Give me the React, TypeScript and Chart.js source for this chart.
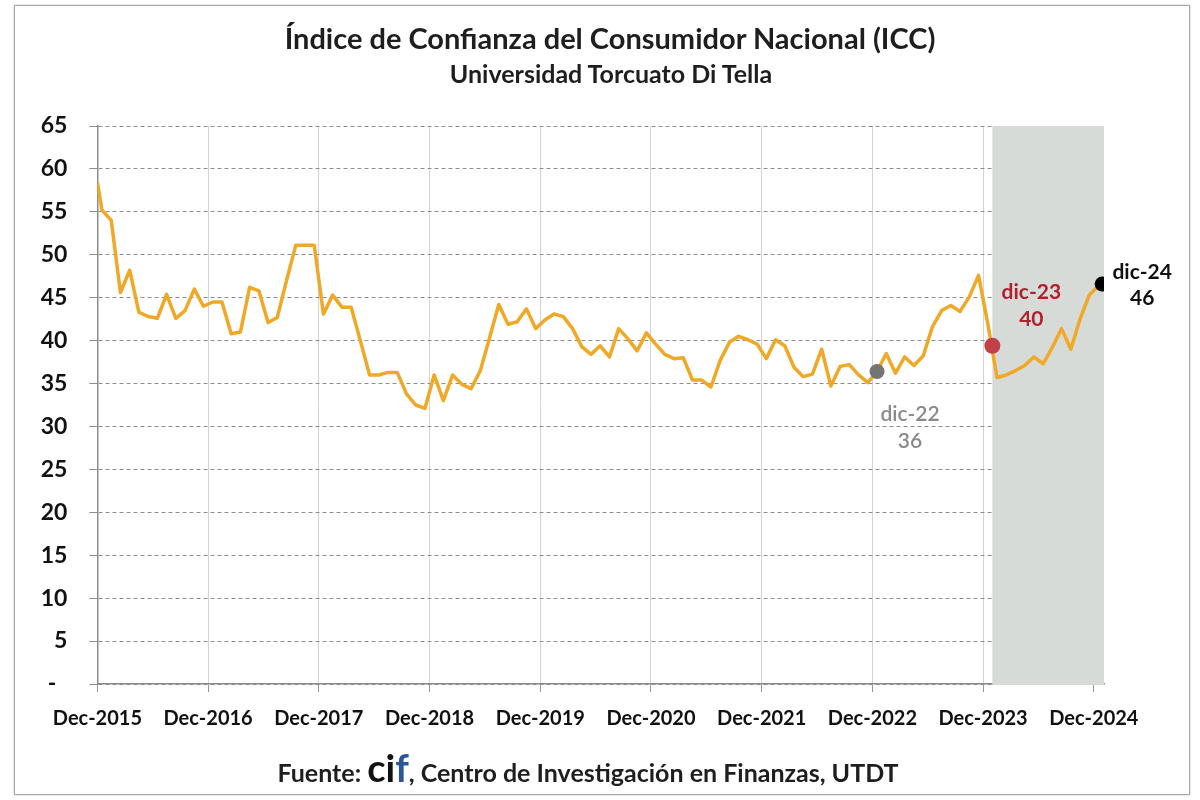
import React, { useEffect, useRef } from 'react';
import { Chart, registerables } from 'chart.js';

Chart.register(...registerables);

// Monthly ICC values, Dec-2015 ... Jan-2025
const iccValues = [
  58.4, 55.2, 54.0, 45.6, 48.2, 43.3, 42.8, 42.6, 45.4, 42.6, 43.5, 46.0,
  44.0, 44.5, 44.5, 40.8, 41.0, 46.2, 45.8, 42.1, 42.7, 47.0, 51.1, 51.1,
  51.1, 43.1, 45.3, 43.9, 43.9, 40.0, 36.0, 36.0, 36.3, 36.3, 33.8, 32.5,
  32.1, 36.0, 33.0, 36.0, 34.9, 34.4, 36.5, 40.3, 44.2, 41.9, 42.2, 43.7,
  41.4, 42.4, 43.1, 42.8, 41.4, 39.3, 38.4, 39.4, 38.1, 41.4, 40.2, 38.8,
  40.9, 39.6, 38.4, 37.9, 38.0, 35.4, 35.4, 34.6, 37.7, 39.8, 40.5, 40.1,
  39.6, 37.9, 40.1, 39.4, 36.9, 35.8, 36.1, 39.0, 34.7, 37.0, 37.2, 36.0,
  35.1, 36.4, 38.5, 36.2, 38.1, 37.1, 38.2, 41.6, 43.5, 44.1, 43.4, 45.1,
  47.6, 42.0, 35.7, 36.0, 36.5, 37.1, 38.1, 37.3, 39.2, 41.4, 39.0, 42.5,
  45.3, 46.4,
];

const xTickMonths = [0, 12, 24, 36, 48, 60, 72, 84, 96, 108];
const xTickLabels = [
  'Dec-2015', 'Dec-2016', 'Dec-2017', 'Dec-2018', 'Dec-2019',
  'Dec-2020', 'Dec-2021', 'Dec-2022', 'Dec-2023', 'Dec-2024',
];
const axisMaxMonth = 109.1;
const yMin = 0;
const yMax = 65;
const yStep = 5;

const markerNames = ['dic-22', 'dic-23', 'dic-24'];
const markerMonths = [84.5, 97.0, 108.9];
const markerValues = [36.4, 39.4, 46.6];
const markerTexts = ['36', '40', '46'];

const shadeStartMonth = 97.0;

const TITLE = 'Índice de Confianza del Consumidor Nacional (ICC)';
const SUBTITLE = 'Universidad Torcuato Di Tella';

const FONT = 'Lato, "Open Sans", sans-serif';

const markerColors = ['#747474', '#C2404A', '#000000'];
const markerRadii = [7.5, 8, 7.5];
const markerLabelColors = ['#8A8A8A', '#B0202F', '#111111'];
const markerLabelWeights = ['600', 'bold', 'bold'];
const markerLabelOffsets = [
  { dx: 33, dy1: 43, dy2: 70 },
  { dx: 39, dy1: -54, dy2: -27 },
  { dx: 40, dy1: -12, dy2: 14 },
];

export default function App() {
  const canvasRef = useRef<HTMLCanvasElement | null>(null);

  useEffect(() => {
    if (!canvasRef.current) return;

    const shadePlugin = {
      id: 'shadeBand',
      beforeDatasetsDraw(chart: any) {
        const { ctx, chartArea, scales } = chart;
        const x0 = scales.x.getPixelForValue(shadeStartMonth);
        ctx.save();
        ctx.fillStyle = '#D7DBD7';
        ctx.fillRect(x0, chartArea.top, chartArea.right - x0, chartArea.bottom - chartArea.top + 1);
        ctx.restore();
      },
    };

    const labelPlugin = {
      id: 'markerLabels',
      afterDatasetsDraw(chart: any) {
        const { ctx, scales } = chart;
        ctx.save();
        ctx.textAlign = 'center';
        ctx.textBaseline = 'middle';
        markerNames.forEach((name, i) => {
          const px = scales.x.getPixelForValue(markerMonths[i]);
          const py = scales.y.getPixelForValue(markerValues[i]);
          const off = markerLabelOffsets[i];
          ctx.fillStyle = markerLabelColors[i];
          ctx.font = `${markerLabelWeights[i]} 21px ${FONT}`;
          ctx.fillText(name, px + off.dx, py + off.dy1);
          ctx.fillText(markerTexts[i], px + off.dx, py + off.dy2);
        });
        ctx.restore();
      },
    };

    const chart = new Chart(canvasRef.current, {
      type: 'line',
      data: {
        datasets: [
          {
            label: 'markers',
            data: markerMonths.map((m, i) => ({ x: m, y: markerValues[i] })),
            showLine: false,
            pointRadius: markerRadii,
            pointBackgroundColor: markerColors,
            pointBorderWidth: 0,
            borderColor: 'transparent',
          },
          {
            label: 'ICC',
            data: iccValues.map((v, i) => ({ x: Math.max(0, i - 0.5), y: v })),
            borderColor: '#F0A826',
            borderWidth: 3.5,
            pointRadius: 0,
            tension: 0,
            fill: false,
            borderJoinStyle: 'round',
          },
        ],
      },
      options: {
        animation: false,
        responsive: false,
        devicePixelRatio: 1,
        layout: { padding: { left: 20, right: 96, top: 126, bottom: 0 } },
        plugins: {
          legend: { display: false },
          tooltip: { enabled: false },
          title: { display: false },
        },
        scales: {
          x: {
            type: 'linear',
            min: 0,
            max: axisMaxMonth,
            afterBuildTicks(scale: any) {
              scale.ticks = xTickMonths.map((v) => ({ value: v }));
            },
            afterFit(scale: any) {
              scale.height = 116;
            },
            ticks: {
              autoSkip: false,
              maxRotation: 0,
              padding: 15,
              color: '#111',
              font: { family: FONT, size: 20, weight: 'bold' },
              callback: (value: any) => {
                const idx = xTickMonths.indexOf(Number(value));
                return idx >= 0 ? xTickLabels[idx] : '';
              },
            },
            grid: {
              color: '#D4D4D4',
              lineWidth: 1,
              tickLength: 8,
              tickColor: '#999',
            },
            border: { display: true, color: '#8C8C8C', width: 1.5 },
          },
          y: {
            min: yMin,
            max: yMax,
            afterFit(scale: any) {
              scale.width = 77.4;
            },
            ticks: {
              stepSize: yStep,
              padding: 22,
              color: '#111',
              font: { family: FONT, size: 23, weight: 'bold' },
              callback: (value: any) => (Number(value) === 0 ? '-  ' : String(value)),
            },
            grid: {
              color: '#8E8E8E',
              lineWidth: 1,
              tickLength: 8,
              tickColor: '#8E8E8E',
            },
            border: { display: true, color: '#8C8C8C', width: 1.5, dash: [4, 3] },
          },
        },
      },
      plugins: [shadePlugin, labelPlugin],
    } as any);

    return () => chart.destroy();
  }, []);

  return (
    <div style={{ position: 'fixed', left: 0, top: 0, width: 1200, height: 800, background: '#fff', overflow: 'hidden' }}>
      <div
        style={{
          position: 'absolute', left: 14, top: 5, width: 1176, height: 790,
          border: '1px solid #A8A8A8', boxShadow: '0 0 2px rgba(0,0,0,0.25)', boxSizing: 'border-box',
        }}
      />
      <canvas ref={canvasRef} width={1200} height={800} style={{ position: 'absolute', left: 0, top: 0, width: 1200, height: 800 }} />
      <div
        style={{
          position: 'absolute', left: 610, top: 20, transform: 'translateX(-50%)', whiteSpace: 'nowrap',
          fontFamily: FONT, fontWeight: 'bold', fontSize: 29, lineHeight: '36px', color: '#1E1E1E',
        }}
      >
        {TITLE}
      </div>
      <div
        style={{
          position: 'absolute', left: 611, top: 58, transform: 'translateX(-50%)', whiteSpace: 'nowrap',
          fontFamily: FONT, fontWeight: 'bold', fontSize: 25, lineHeight: '30px', color: '#1E1E1E',
        }}
      >
        {SUBTITLE}
      </div>
      <div
        style={{
          position: 'absolute', left: 588, top: 745, transform: 'translateX(-50%)', whiteSpace: 'nowrap',
          fontFamily: FONT, fontWeight: 'bold', fontSize: 25, color: '#1E1E1E', lineHeight: '44px',
        }}
      >
        Fuente:{' '}
        <span style={{ fontSize: 38 }}>
          <span style={{ color: '#111' }}>ci</span>
          <span style={{ color: '#2B5797' }}>f</span>
        </span>
        , Centro de Investigación en Finanzas, UTDT
      </div>
    </div>
  );
}
